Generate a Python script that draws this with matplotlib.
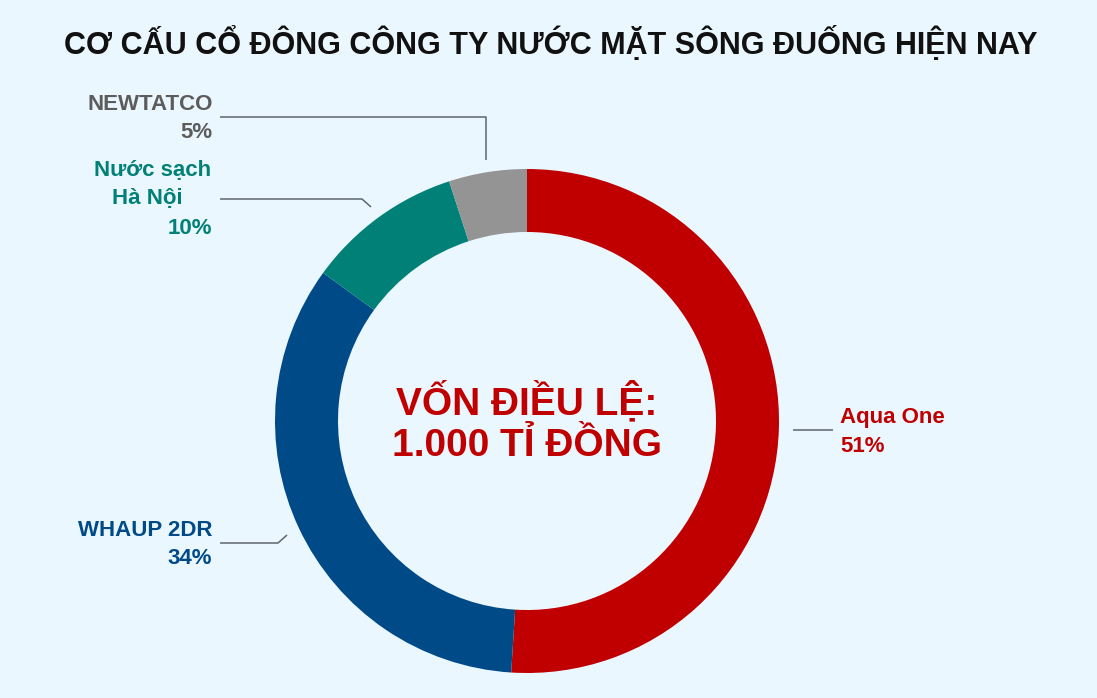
import matplotlib
matplotlib.use('Agg')
import matplotlib.pyplot as plt

# shareholder structure
names = ['Aqua One', 'WHAUP 2DR', 'Nước sạch\nHà Nội', 'NEWTATCO']
shares = [51, 34, 10, 5]
colors = ['#C00000', '#004A87', '#008076', '#949494']
label_colors = ['#C00000', '#004A87', '#008076', '#5C5C5C']

title = 'CƠ CẤU CỔ ĐÔNG CÔNG TY NƯỚC MẶT SÔNG ĐUỐNG HIỆN NAY'
center_text = 'VỐN ĐIỀU LỆ:\n1.000 TỈ ĐỒNG'

BG = '#EBF7FE'
W, H = 1097, 698

plt.rcParams['font.family'] = ['Liberation Sans', 'DejaVu Sans']

fig = plt.figure(figsize=(W / 100, H / 100), dpi=100, facecolor=BG)
ax = fig.add_axes([0, 0, 1, 1])
ax.set_facecolor(BG)


def Y(y):
    # pixel row from top -> data y
    return H - y


cx, cy, r = 527, Y(421), 252
ax.pie(shares, colors=colors, startangle=90, counterclock=False,
       radius=r, center=(cx, cy), frame=True,
       wedgeprops=dict(width=63, linewidth=0))
ax.set_xlim(0, W)
ax.set_ylim(0, H)
ax.set_aspect('equal')
ax.axis('off')

ax.text(551, Y(43), title, ha='center', va='center', fontsize=22,
        fontweight='bold', color='#111111')

ax.text(cx, Y(422), center_text, ha='center', va='center', fontsize=28,
        fontweight='bold', color='#C00000', linespacing=1.2)

line_kw = dict(color='#5E6670', linewidth=1.1, solid_capstyle='butt')
lab_kw = dict(fontsize=16, fontweight='bold', va='center')

# Aqua One
ax.plot([793, 833], [Y(430), Y(430)], **line_kw)
ax.text(840, Y(418), names[0], ha='left', color=label_colors[0], **lab_kw)
ax.text(840, Y(446), '%d%%' % shares[0], ha='left', color=label_colors[0], **lab_kw)

# WHAUP 2DR
ax.plot([220, 278, 287], [Y(543), Y(543), Y(535)], **line_kw)
ax.text(212, Y(530), names[1], ha='right', color=label_colors[1], **lab_kw)
ax.text(212, Y(559), '%d%%' % shares[1], ha='right', color=label_colors[1], **lab_kw)

# Nuoc sach Ha Noi
first, second = names[2].split('\n')
ax.plot([220, 362, 371], [Y(199), Y(199), Y(207)], **line_kw)
ax.text(211, Y(170), first, ha='right', color=label_colors[2], **lab_kw)
ax.text(147, Y(199), second, ha='center', color=label_colors[2], **lab_kw)
ax.text(212, Y(228), '%d%%' % shares[2], ha='right', color=label_colors[2], **lab_kw)

# NEWTATCO
ax.plot([220, 486, 486], [Y(117), Y(117), Y(160)], **line_kw)
ax.text(213, Y(104), names[3], ha='right', color=label_colors[3], **lab_kw)
ax.text(212, Y(133), '%d%%' % shares[3], ha='right', color=label_colors[3], **lab_kw)

fig.savefig('out.png', dpi=100, facecolor=BG)
